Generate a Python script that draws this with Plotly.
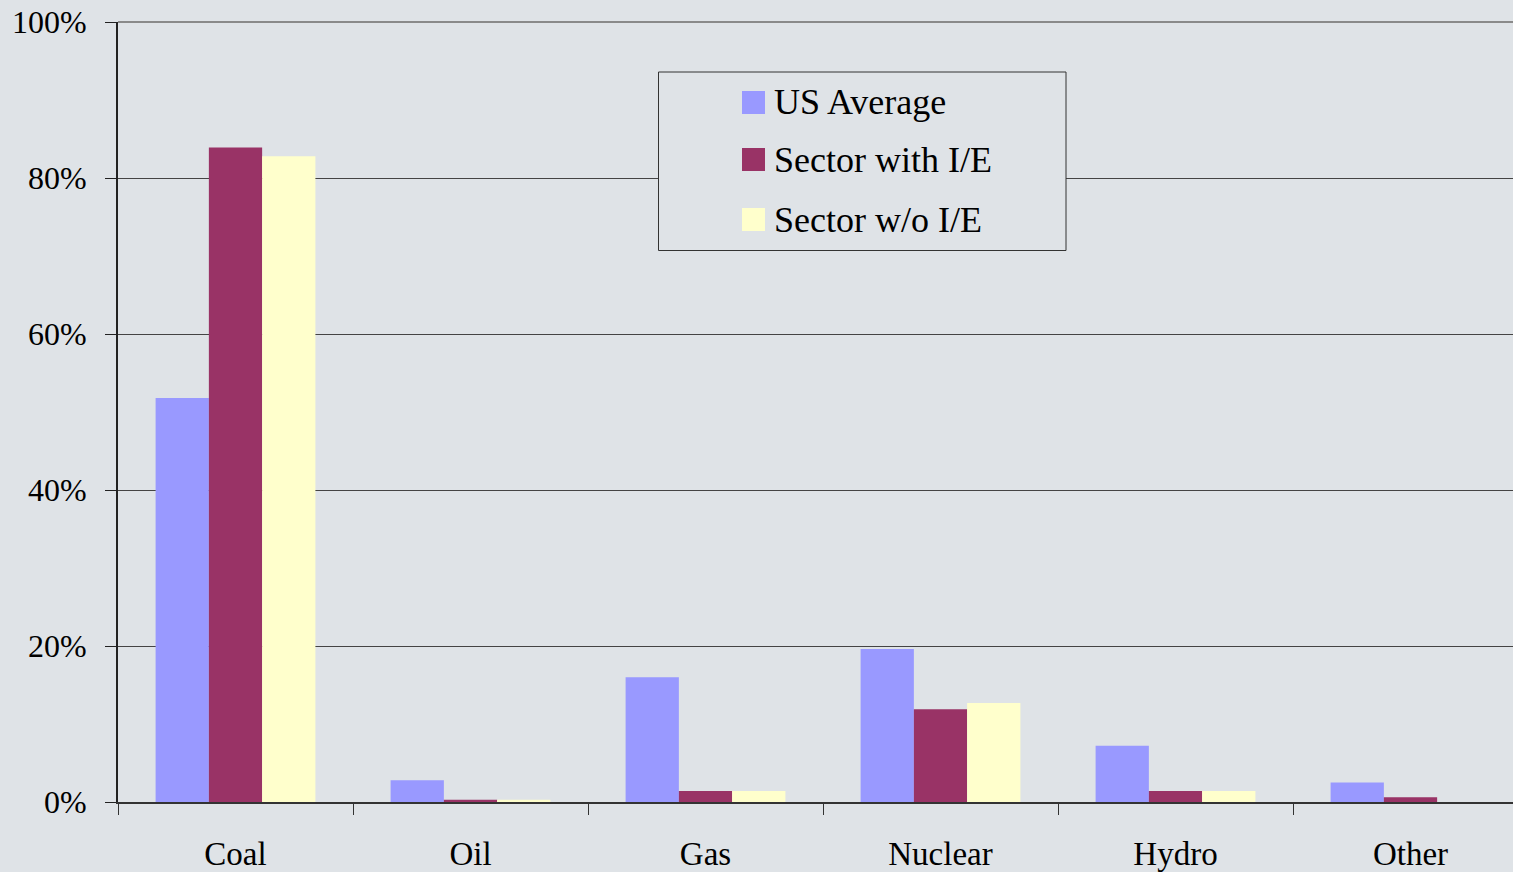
import plotly.graph_objects as go

categories = ["Coal", "Oil", "Gas", "Nuclear", "Hydro", "Other"]
series_names = ["US Average", "Sector with I/E", "Sector w/o I/E"]
us_average = [51.8, 2.8, 16.0, 19.6, 7.2, 2.5]
sector_with_ie = [83.9, 0.3, 1.4, 11.9, 1.4, 0.6]
sector_wo_ie = [82.8, 0.3, 1.4, 12.7, 1.4, 0.0]
colors = ["#9999FF", "#993366", "#FFFFCC"]
y_ticks = [0, 20, 40, 60, 80, 100]

W, H = 1513, 872
L, R, T, B = 118, 0, 22, 70
PW, PH = W - L - R, H - T - B

def px_x(x):
    return (x - L) / PW

def px_y(y):
    return (H - B - y) / PH

FONT = "Liberation Serif, Times New Roman, serif"
BG = "#dfe3e7"

fig = go.Figure()
for name, vals, col in zip(series_names, [us_average, sector_with_ie, sector_wo_ie], colors):
    fig.add_trace(go.Bar(x=categories, y=vals, name=name, marker=dict(color=col, line=dict(width=0)),
                         showlegend=False))

shapes = [
    dict(type="line", xref="paper", yref="paper", x0=0, x1=1, y0=1, y1=1,
         line=dict(color="#8a8a8a", width=2), layer="below"),
    dict(type="rect", xref="paper", yref="paper",
         x0=px_x(658.5), x1=px_x(1066), y0=px_y(250.5), y1=px_y(72),
         line=dict(color="#333333", width=1), fillcolor=BG, layer="above"),
]
annotations = []
sq_tops = [91, 148, 208]
for name, col, top in zip(series_names, colors, sq_tops):
    shapes.append(dict(type="rect", xref="paper", yref="paper",
                       x0=px_x(742), x1=px_x(765), y0=px_y(top + 23), y1=px_y(top),
                       line=dict(width=0), fillcolor=col, layer="above"))
    annotations.append(dict(xref="paper", yref="paper", x=px_x(772), y=px_y(top + 11.5),
                            text=name, showarrow=False, xanchor="left", yanchor="middle",
                            font=dict(family=FONT, size=36, color="#000000")))

fig.update_layout(
    width=W, height=H,
    margin=dict(l=L, r=R, t=T, b=B, pad=0),
    paper_bgcolor=BG, plot_bgcolor=BG,
    barmode="group", bargap=0.32, bargroupgap=0,
    font=dict(family=FONT, color="#000000"),
    shapes=shapes, annotations=annotations,
    showlegend=False,
)
fig.update_xaxes(type="category", range=[-0.5, -0.5 + PW / 235.0],
                 showline=True, linecolor="#333333", linewidth=2,
                 ticks="outside", tickson="boundaries", ticklen=11, tickcolor="#333333",
                 tickfont=dict(family=FONT, size=33), ticklabelstandoff=21,
                 showgrid=False)
fig.update_yaxes(range=[0, 100], tickvals=y_ticks, ticktext=[f"{v}%" for v in y_ticks],
                 showline=True, linecolor="#222222", linewidth=2,
                 ticks="outside", ticklen=11, tickcolor="#222222",
                 tickfont=dict(family=FONT, size=32), ticklabelstandoff=12,
                 showgrid=True, gridcolor="#444444", gridwidth=1, zeroline=False)

fig.write_html("out.html", config={"displayModeBar": False},
               post_script="document.body.style.margin='0';document.body.style.overflow='hidden';"
                           "document.body.style.background='" + BG + "';")
